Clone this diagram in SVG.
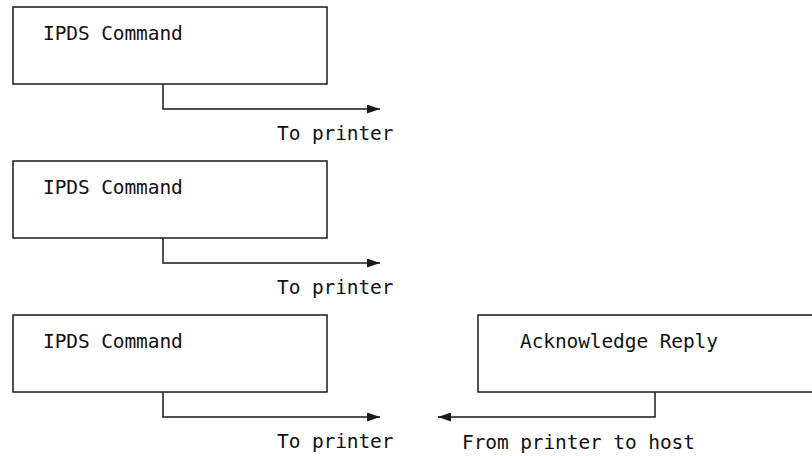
<svg xmlns="http://www.w3.org/2000/svg" width="812" height="456" viewBox="0 0 812 456">
  <defs>
    <style>
      .box { fill: #ffffff; stroke: #1a1a1a; stroke-width: 1.5; }
      .wire { fill: none; stroke: #1a1a1a; stroke-width: 1.5; }
      .lbl { font-family: "DejaVu Sans Mono", "Liberation Mono", monospace; font-size: 19.5px; letter-spacing: -0.1px; fill: #111111; }
    </style>
    <marker id="arrow" viewBox="0 0 13 9" refX="13" refY="4.5" markerWidth="13" markerHeight="9" markerUnits="userSpaceOnUse" orient="auto">
      <path d="M0,0 L13,4.5 L0,9 Z" fill="#1a1a1a"/>
    </marker>
  </defs>
  <rect width="812" height="456" fill="#ffffff"/>

  <!-- command boxes -->
  <g id="cmd1">
    <rect class="box" x="13" y="7" width="314" height="77"/>
    <text class="lbl" x="43" y="40">IPDS Command</text>
  </g>
  <g id="cmd2">
    <rect class="box" x="13" y="161" width="314" height="77"/>
    <text class="lbl" x="43" y="194">IPDS Command</text>
  </g>
  <g id="cmd3">
    <rect class="box" x="13" y="315" width="314" height="77"/>
    <text class="lbl" x="43" y="348">IPDS Command</text>
  </g>
  <g id="ack">
    <rect class="box" x="478" y="315" width="345" height="77"/>
    <text class="lbl" x="520" y="348">Acknowledge Reply</text>
  </g>

  <!-- flows -->
  <g id="connectors">
    <path class="wire" d="M163,84 V109 H380" marker-end="url(#arrow)"/>
    <path class="wire" d="M163,238 V263 H380" marker-end="url(#arrow)"/>
    <path class="wire" d="M163,392 V417 H380" marker-end="url(#arrow)"/>
    <path class="wire" d="M655,392 V417 H438" marker-end="url(#arrow)"/>
  </g>

  <!-- flow labels -->
  <g id="labels">
    <text class="lbl" x="277" y="140">To printer</text>
    <text class="lbl" x="277" y="294">To printer</text>
    <text class="lbl" x="277" y="448">To printer</text>
    <text class="lbl" x="462" y="449">From printer to host</text>
  </g>
</svg>
